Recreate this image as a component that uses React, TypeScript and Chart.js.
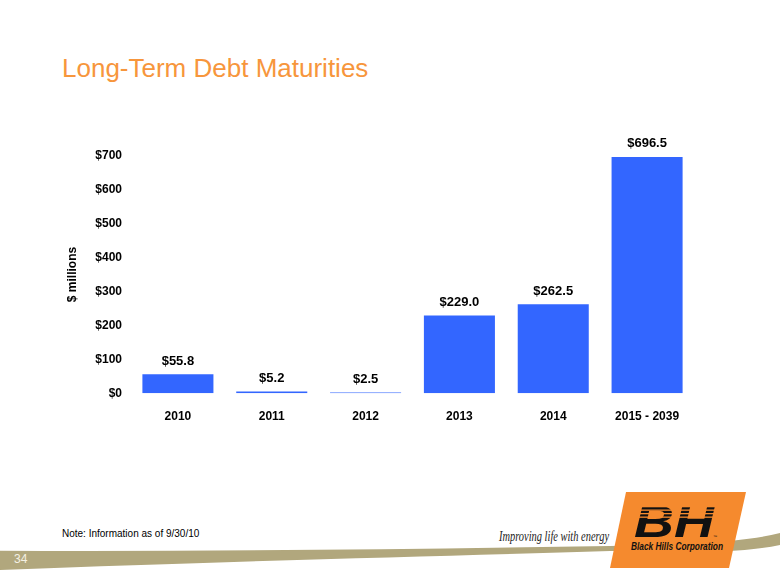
import React, { useEffect, useRef } from "react";
import { Chart, registerables } from "chart.js";

Chart.register(...registerables);

const categories = ["2010", "2011", "2012", "2013", "2014", "2015 - 2039"];
const maturities = [55.8, 5.2, 2.5, 229.0, 262.5, 696.5];
const valueLabels = ["$55.8", "$5.2", "$2.5", "$229.0", "$262.5", "$696.5"];
const yTicks = [0, 100, 200, 300, 400, 500, 600, 700];

const FONT = "'Liberation Sans', Arial, sans-serif";

const barLabelPlugin = {
  id: "barLabels",
  afterDatasetsDraw(chart: any) {
    const ctx = chart.ctx;
    const meta = chart.getDatasetMeta(0);
    ctx.save();
    ctx.font = `bold 13px ${FONT}`;
    ctx.fillStyle = "#000";
    ctx.textAlign = "center";
    ctx.textBaseline = "middle";
    meta.data.forEach((bar: any, i: number) => {
      ctx.fillText(valueLabels[i], bar.x, bar.y - 13);
    });
    ctx.restore();
  },
};

export default function App() {
  const ref = useRef<HTMLCanvasElement>(null);

  useEffect(() => {
    if (!ref.current) return;
    const chart = new Chart(ref.current, {
      type: "bar",
      data: {
        labels: categories,
        datasets: [
          {
            data: maturities,
            backgroundColor: "#3366FF",
            borderWidth: 0,
            barPercentage: 0.757,
            categoryPercentage: 1,
          },
        ],
      },
      options: {
        animation: false,
        responsive: false,
        layout: { padding: { left: 0, right: 86, top: 155.7, bottom: 151.7 } },
        plugins: { legend: { display: false }, tooltip: { enabled: false } },
        scales: {
          x: {
            grid: { display: false, drawTicks: false },
            border: { display: false },
            ticks: {
              font: { family: FONT, weight: "bold", size: 12 },
              color: "#000",
              padding: 16,
              maxRotation: 0,
              autoSkip: false,
            },
            afterFit: (s: any) => {
              s.height = 40;
            },
          },
          y: {
            min: 0,
            max: 700,
            afterBuildTicks: (s: any) => {
              s.ticks = yTicks.map((v) => ({ value: v }));
            },
            ticks: {
              callback: (v: any) => "$" + v,
              font: { family: FONT, weight: "bold", size: 12 },
              color: "#000",
              padding: 9,
            },
            grid: { display: false, drawTicks: false },
            border: { display: false },
            title: {
              display: true,
              text: "$ millions",
              font: { family: FONT, weight: "bold", size: 12 },
              color: "#000",
              padding: { top: 65, bottom: 0 },
            },
            afterFit: (s: any) => {
              s.width = 131;
            },
          },
        },
      },
      plugins: [barLabelPlugin],
    } as any);
    return () => chart.destroy();
  }, []);

  return (
    <div
      style={{
        position: "fixed",
        left: 0,
        top: 0,
        width: 780,
        height: 585,
        background: "#fff",
        overflow: "hidden",
      }}
    >
      <svg
        width={780}
        height={585}
        style={{ position: "absolute", left: 0, top: 0 }}
      >
        <text
          x={62}
          y={77}
          fontFamily={FONT}
          fontSize={26}
          fill="#F7963C"
        >
          Long-Term Debt Maturities
        </text>
        <text x={62} y={537} fontFamily={FONT} fontSize={10} fill="#000">
          Note: Information as of 9/30/10
        </text>
        <path
          d="M0 550.7 C 200 551.5, 400 549.5, 610 546 C 680 544.5, 740 543, 780 533 L 780 545 C 760 549, 740 551.5, 700 551.5 C 660 551, 630 551, 610 551 C 450 556, 250 560.5, 0 570 Z"
          fill="#B1A77D"
        />
        <text x={14} y={563} fontFamily={FONT} fontSize={12} fill="#F4F1E4">
          34
        </text>
        <text
          x={499}
          y={540.7}
          fontFamily="'Liberation Serif', 'DejaVu Serif', serif"
          fontStyle="italic"
          fontSize={14}
          fill="#222"
          textLength={110}
          lengthAdjust="spacingAndGlyphs"
        >
          Improving life with energy
        </text>
        <polygon points="626,492 746,492 729,568 610,568" fill="#F58A2E" />
        <text
          x={634}
          y={537}
          fontFamily={FONT}
          fontStyle="italic"
          fontWeight="bold"
          fontSize={44}
          fill="#111"
          textLength={80}
          lengthAdjust="spacingAndGlyphs"
        >
          BH
        </text>
        {[506, 509.5, 513, 516.5].map((y) => (
          <rect key={y} x={638} y={y} width={80} height={1.3} fill="#F58A2E" />
        ))}
        <text x={713} y={538} fontFamily={FONT} fontSize={4} fill="#111">
          ™
        </text>
        <text
          x={631}
          y={550}
          fontFamily={FONT}
          fontStyle="italic"
          fontWeight="bold"
          fontSize={10}
          fill="#111"
          textLength={92}
          lengthAdjust="spacingAndGlyphs"
        >
          Black Hills Corporation
        </text>
      </svg>
      <canvas
        ref={ref}
        width={780}
        height={585}
        style={{ position: "absolute", left: 0, top: 0, width: 780, height: 585 }}
      />
    </div>
  );
}
